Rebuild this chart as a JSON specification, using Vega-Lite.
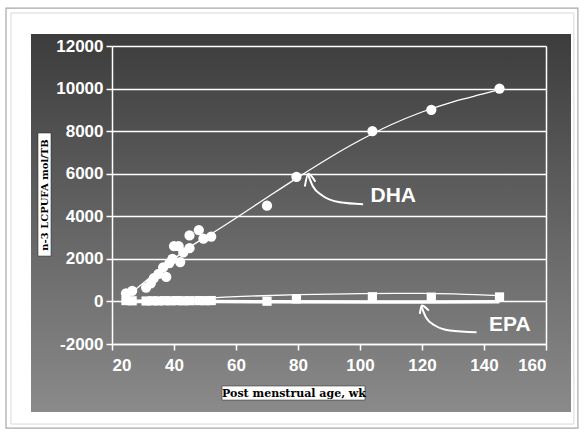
{
  "$schema": "https://vega.github.io/schema/vega-lite/v6.json",
  "width": 434,
  "height": 298,
  "autosize": "none",
  "padding": {"left": 112, "top": 46, "right": 38, "bottom": 90},
  "background": "white",
  "config": {
    "view": {"stroke": null},
    "font": "Liberation Sans"
  },
  "datasets": {
    "dha": [
      {"age": 24.5, "val": 380}, {"age": 26.5, "val": 500}, {"age": 31, "val": 650},
      {"age": 32.5, "val": 850}, {"age": 33.5, "val": 1100}, {"age": 35, "val": 1300},
      {"age": 36.5, "val": 1600}, {"age": 37.5, "val": 1150}, {"age": 38.5, "val": 1800},
      {"age": 39.5, "val": 2000}, {"age": 40, "val": 2600}, {"age": 41.5, "val": 2600},
      {"age": 42, "val": 1850}, {"age": 43, "val": 2300}, {"age": 45, "val": 3100},
      {"age": 45, "val": 2500}, {"age": 48, "val": 3350}, {"age": 49.5, "val": 2950},
      {"age": 52, "val": 3050}, {"age": 70, "val": 4500}, {"age": 79.5, "val": 5850},
      {"age": 104, "val": 8000}, {"age": 123, "val": 9000}, {"age": 145, "val": 10000}
    ],
    "dhafit": [
      {"age": 25, "val": 250}, {"age": 30, "val": 850}, {"age": 35, "val": 1450},
      {"age": 40, "val": 2000}, {"age": 45, "val": 2550}, {"age": 50, "val": 3000},
      {"age": 55, "val": 3450}, {"age": 60, "val": 3920}, {"age": 70, "val": 4880},
      {"age": 80, "val": 5830}, {"age": 90, "val": 6740}, {"age": 100, "val": 7570},
      {"age": 110, "val": 8300}, {"age": 120, "val": 8900}, {"age": 130, "val": 9380},
      {"age": 140, "val": 9760}, {"age": 145, "val": 9950}
    ],
    "epa": [
      {"age": 24.5, "val": 40}, {"age": 26.5, "val": 30}, {"age": 31, "val": 20},
      {"age": 33, "val": 30}, {"age": 35, "val": 25}, {"age": 37, "val": 35},
      {"age": 39, "val": 30}, {"age": 41, "val": 40}, {"age": 43, "val": 30},
      {"age": 45, "val": 35}, {"age": 48, "val": 40}, {"age": 50, "val": 35},
      {"age": 52, "val": 40}, {"age": 70, "val": 10}, {"age": 79.5, "val": 120},
      {"age": 104, "val": 220}, {"age": 123, "val": 200}, {"age": 145, "val": 210}
    ],
    "epafit": [
      {"age": 25, "val": 40}, {"age": 40, "val": 90}, {"age": 60, "val": 230},
      {"age": 80, "val": 320}, {"age": 100, "val": 370}, {"age": 120, "val": 380},
      {"age": 145, "val": 270}
    ],
    "epalow": [
      {"age": 24.5, "val": 0}, {"age": 52, "val": 0}, {"age": 70, "val": -20},
      {"age": 104, "val": -30}, {"age": 123, "val": -30}, {"age": 145, "val": -10}
    ],
    "arrows": [
      {"arrow": "dha", "i": 0, "age": 101, "val": 4570},
      {"arrow": "dha", "i": 1, "age": 93.5, "val": 4660},
      {"arrow": "dha", "i": 2, "age": 87.7, "val": 4990},
      {"arrow": "dha", "i": 3, "age": 84.8, "val": 5410},
      {"arrow": "dha", "i": 4, "age": 83.3, "val": 5950},
      {"arrow": "dhahead", "i": 0, "age": 82.2, "val": 5400},
      {"arrow": "dhahead", "i": 1, "age": 83.3, "val": 6000},
      {"arrow": "dhahead", "i": 2, "age": 85.6, "val": 5620},
      {"arrow": "epa", "i": 0, "age": 137.6, "val": -1445},
      {"arrow": "epa", "i": 1, "age": 129, "val": -1365},
      {"arrow": "epa", "i": 2, "age": 124.2, "val": -1130},
      {"arrow": "epa", "i": 3, "age": 121.3, "val": -750},
      {"arrow": "epa", "i": 4, "age": 119.8, "val": -230},
      {"arrow": "epahead", "i": 0, "age": 119.3, "val": -580},
      {"arrow": "epahead", "i": 1, "age": 119.9, "val": -190},
      {"arrow": "epahead", "i": 2, "age": 122.2, "val": -430}
    ],
    "labels": [
      {"label": "DHA", "age": 103.4, "val": 4940},
      {"label": "EPA", "age": 141.6, "val": -1130}
    ]
  },
  "resolve": {"axis": {"x": "independent", "y": "independent"}},
  "layer": [
    {
      "data": {"values": [{}]},
      "mark": {"type": "rect", "clip": false, "fill": null, "stroke": "#a8a8a8", "strokeWidth": 1.2},
      "encoding": {
        "x": {"datum": -14.2, "type": "quantitative", "scale": {"domain": [20, 160], "nice": false, "zero": false}, "axis": null},
        "x2": {"datum": 170.3},
        "y": {"datum": 13784, "type": "quantitative", "scale": {"domain": [-2000, 12000], "nice": false, "zero": false}, "axis": null},
        "y2": {"datum": -5948}
      }
    },
    {
      "data": {"values": [{}]},
      "mark": {"type": "rect", "clip": false, "fill": null, "stroke": "#d8d8d8", "strokeWidth": 1},
      "encoding": {
        "x": {"datum": -12.6, "type": "quantitative", "axis": null},
        "x2": {"datum": 169.0},
        "y": {"datum": 13549, "type": "quantitative", "axis": null},
        "y2": {"datum": -5760}
      }
    },
    {
      "data": {"values": [{}]},
      "mark": {
        "type": "rect", "clip": false,
        "color": {"gradient": "linear", "x1": 0, "y1": 0, "x2": 0, "y2": 1,
          "stops": [{"offset": 0, "color": "#3c3c3c"}, {"offset": 0.5, "color": "#646464"}, {"offset": 1, "color": "#8a8a8a"}]}
      },
      "encoding": {
        "x": {"datum": -6.13, "type": "quantitative", "axis": null},
        "x2": {"datum": 168.06},
        "y": {"datum": 12562, "type": "quantitative", "axis": null},
        "y2": {"datum": -5196}
      }
    },
    {
      "data": {"values": [{}]},
      "mark": {"type": "rect", "clip": false, "color": "white", "stroke": "#222", "strokeWidth": 0.5},
      "encoding": {
        "x": {"datum": 55.5, "type": "quantitative", "axis": null},
        "x2": {"datum": 101.6},
        "y": {"datum": -3974, "type": "quantitative", "axis": null},
        "y2": {"datum": -4632}
      }
    },
    {
      "data": {"values": [{}]},
      "mark": {"type": "rect", "clip": false, "color": "white", "stroke": "#222", "strokeWidth": 0.5},
      "encoding": {
        "x": {"datum": -3.87, "type": "quantitative", "axis": null},
        "x2": {"datum": 0.32},
        "y": {"datum": 7911, "type": "quantitative", "axis": null},
        "y2": {"datum": 2133}
      }
    },
    {
      "data": {"name": "dhafit"},
      "mark": {"type": "line", "color": "white", "strokeWidth": 1.3, "interpolate": "monotone"},
      "encoding": {
        "x": {"field": "age", "type": "quantitative", "axis": null},
        "y": {"field": "val", "type": "quantitative",
          "axis": {"orient": "right", "zindex": 1, "labels": false, "ticks": false, "grid": false, "title": null,
            "domainColor": "white", "domainWidth": 1.5}}
      }
    },
    {
      "data": {"name": "epafit"},
      "mark": {"type": "line", "color": "white", "strokeWidth": 1.3, "interpolate": "monotone"},
      "encoding": {
        "x": {"field": "age", "type": "quantitative", "axis": null},
        "y": {"field": "val", "type": "quantitative", "axis": null}
      }
    },
    {
      "data": {"name": "epalow"},
      "mark": {"type": "line", "color": "white", "strokeWidth": 3.5},
      "encoding": {
        "x": {"field": "age", "type": "quantitative", "axis": null},
        "y": {"field": "val", "type": "quantitative", "axis": null}
      }
    },
    {
      "data": {"name": "epa"},
      "mark": {"type": "point", "shape": "square", "filled": true, "color": "white", "size": 85, "opacity": 1},
      "encoding": {
        "x": {"field": "age", "type": "quantitative", "axis": null},
        "y": {"field": "val", "type": "quantitative", "axis": null}
      }
    },
    {
      "data": {"name": "dha"},
      "mark": {"type": "circle", "color": "white", "size": 105, "opacity": 1},
      "encoding": {
        "x": {"field": "age", "type": "quantitative",
          "axis": {"zindex": 1, "values": [20, 40, 60, 80, 100, 120, 140, 160], "grid": false,
            "labelExpr": "'' + datum.value",
            "domainColor": "white", "domainWidth": 1.5, "tickColor": "white", "tickWidth": 1.5, "tickSize": 6,
            "labelColor": "white", "labelFont": "Liberation Sans", "labelFontWeight": "bold", "labelFontSize": 17,
            "labelPadding": 7, "labelDx": 4,
            "title": "Post menstrual age, wk", "titleFont": "DejaVu Serif", "titleFontWeight": "bold",
            "titleFontSize": 11, "titleColor": "black", "titleX": 181.5, "titleY": 49, "titleBaseline": "middle",
            "titleAlign": "center"}},
        "y": {"field": "val", "type": "quantitative",
          "axis": {"zindex": 1, "values": [-2000, 0, 2000, 4000, 6000, 8000, 10000, 12000],
            "labelExpr": "'' + datum.value",
            "grid": true, "gridColor": "white", "gridWidth": 1.6, "gridOpacity": 1,
            "domainColor": "white", "domainWidth": 1.5, "tickColor": "white", "tickWidth": 1.5, "tickSize": 6,
            "labelColor": "white", "labelFont": "Liberation Sans", "labelFontWeight": "bold", "labelFontSize": 17,
            "labelPadding": 3,
            "title": "n-3 LCPUFA mol/TB", "titleFont": "DejaVu Serif", "titleFontWeight": "bold",
            "titleFontSize": 10, "titleColor": "black", "titleX": -68, "titleY": 148.5, "titleAngle": -90,
            "titleBaseline": "middle", "titleAlign": "center"}}
      }
    },
    {
      "data": {"name": "arrows"},
      "mark": {"type": "line", "color": "white", "strokeWidth": 2, "interpolate": "monotone", "clip": false},
      "encoding": {
        "x": {"field": "age", "type": "quantitative", "axis": null},
        "y": {"field": "val", "type": "quantitative", "axis": null},
        "detail": {"field": "arrow"},
        "order": {"field": "i"}
      }
    },
    {
      "data": {"name": "labels"},
      "mark": {"type": "text", "color": "white", "font": "Liberation Sans", "fontWeight": "bold", "fontSize": 21, "align": "left", "baseline": "middle"},
      "encoding": {
        "x": {"field": "age", "type": "quantitative", "axis": null},
        "y": {"field": "val", "type": "quantitative", "axis": null},
        "text": {"field": "label"}
      }
    }
  ]
}
